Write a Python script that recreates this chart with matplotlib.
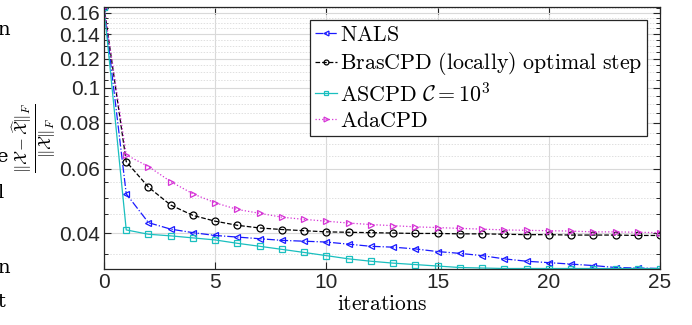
import matplotlib
matplotlib.use("Agg")
import matplotlib.pyplot as plt
from matplotlib.ticker import FixedLocator, MultipleLocator, NullFormatter, FixedFormatter

plt.rcParams['mathtext.fontset'] = 'cm'
plt.rcParams['font.family'] = ['Liberation Sans', 'DejaVu Sans']

iterations = list(range(0, 26))

nals = [0.166, 0.0512, 0.0427, 0.0410, 0.0401, 0.0394, 0.0390, 0.0386, 0.0382,
        0.0380, 0.0378, 0.0373, 0.0368, 0.0366, 0.0362, 0.0356, 0.0352, 0.0347,
        0.0340, 0.0335, 0.0332, 0.0329, 0.0326, 0.0322, 0.0321, 0.0320]
brascpd = [0.166, 0.0627, 0.0534, 0.0477, 0.0447, 0.0431, 0.0420, 0.0413, 0.0409,
           0.0406, 0.0403, 0.0402, 0.0401, 0.0400, 0.0399, 0.0399, 0.0398, 0.0398,
           0.0397, 0.0396, 0.0396, 0.0395, 0.0395, 0.0395, 0.0394, 0.0394]
ascpd = [0.166, 0.0408, 0.0397, 0.0393, 0.0388, 0.0383, 0.0375, 0.0368, 0.0361,
         0.0354, 0.0347, 0.0340, 0.0335, 0.0331, 0.0328, 0.0325, 0.0322, 0.0321,
         0.0320, 0.0320, 0.0320, 0.0320, 0.0320, 0.0320, 0.0320, 0.0320]
adacpd = [0.166, 0.0654, 0.0608, 0.0553, 0.0512, 0.0484, 0.0464, 0.0453, 0.0442,
          0.0436, 0.0431, 0.0426, 0.0422, 0.0419, 0.0416, 0.0414, 0.0412, 0.0410,
          0.0408, 0.0407, 0.0406, 0.0405, 0.0403, 0.0403, 0.0402, 0.0401]

labels = [r'$\mathrm{NALS}$',
          r'$\mathrm{BrasCPD\ (locally)\ optimal\ step}$',
          r'$\mathrm{ASCPD}\ \mathcal{C} = 10^3$',
          r'$\mathrm{AdaCPD}$']

yticks = [0.04, 0.06, 0.08, 0.1, 0.12, 0.14, 0.16]
yticklabels = ['0.04', '0.06', '0.08', '0.1', '0.12', '0.14', '0.16']
xticks = [0, 5, 10, 15, 20, 25]

fig = plt.figure(figsize=(6.92, 3.25), dpi=100)
ax = fig.add_axes([104/692, 1 - 269/325, (660 - 104)/692, (269 - 7)/325])

styles = [
    dict(color='#1a1aff', ls='-.', marker='<'),
    dict(color='black', ls='--', marker='o'),
    dict(color='#1abfbf', ls='-', marker='s'),
    dict(color='#d633d6', ls=':', marker='>'),
]
for ys, lab, st in zip([nals, brascpd, ascpd, adacpd], labels, styles):
    ax.plot(iterations, ys, color=st['color'], linestyle=st['ls'], marker=st['marker'],
            markersize=5 if st['marker'] != 's' else 4, markerfacecolor='none',
            markeredgewidth=0.9, linewidth=0.9, label=lab)

ax.set_yscale('log')
allv = nals + brascpd + ascpd + adacpd
ax.set_ylim(min(allv) - 0.0001, max(allv))
ax.set_xlim(0, 25)
ax.yaxis.set_major_locator(FixedLocator(yticks))
ax.yaxis.set_major_formatter(FixedFormatter(yticklabels))
ax.yaxis.set_minor_locator(MultipleLocator(0.005))
ax.yaxis.set_minor_formatter(NullFormatter())
ax.xaxis.set_major_locator(FixedLocator(xticks))

ax.grid(True, which='major', color='#d9d9d9', linewidth=0.8, linestyle='-')
ax.grid(True, which='minor', axis='y', color='#e0e0e0', linewidth=0.7, linestyle=(0, (1.5, 1.5)))
ax.set_axisbelow(True)

ax.tick_params(which='both', direction='in', top=True, right=True, labelsize=15, colors='#262626')
ax.tick_params(which='major', length=5, width=0.8, pad=3)
ax.tick_params(which='minor', length=3, width=0.7)
for s in ax.spines.values():
    s.set_color('#262626')
    s.set_linewidth(0.9)

ax.set_xlabel(r'$\mathrm{iterations}$', fontsize=15.5, labelpad=1)
ax.set_ylabel(r'$\frac{\|\mathcal{X}-\widehat{\mathcal{X}}\|_F}{\|\mathcal{X}\|_F}$', fontsize=17, labelpad=1)

leg = ax.legend(loc='upper right', fontsize=15.8, handlelength=1.0, handletextpad=0.15,
                borderpad=0.2, labelspacing=0.22, borderaxespad=0.6, fancybox=False,
                framealpha=1, edgecolor='#262626', markerscale=0.7)
leg.get_frame().set_linewidth(0.9)

# cropped fragments of surrounding page text at the left edge
for yy, ch in [(30, 'n'), (157, 'e'), (193, 'l'), (268, 'n'), (302, 't')]:
    fig.text(-0.004, 1 - yy/325, ch, fontsize=14, family='DejaVu Serif', va='center', ha='left')

fig.savefig('out.png', dpi=100)
